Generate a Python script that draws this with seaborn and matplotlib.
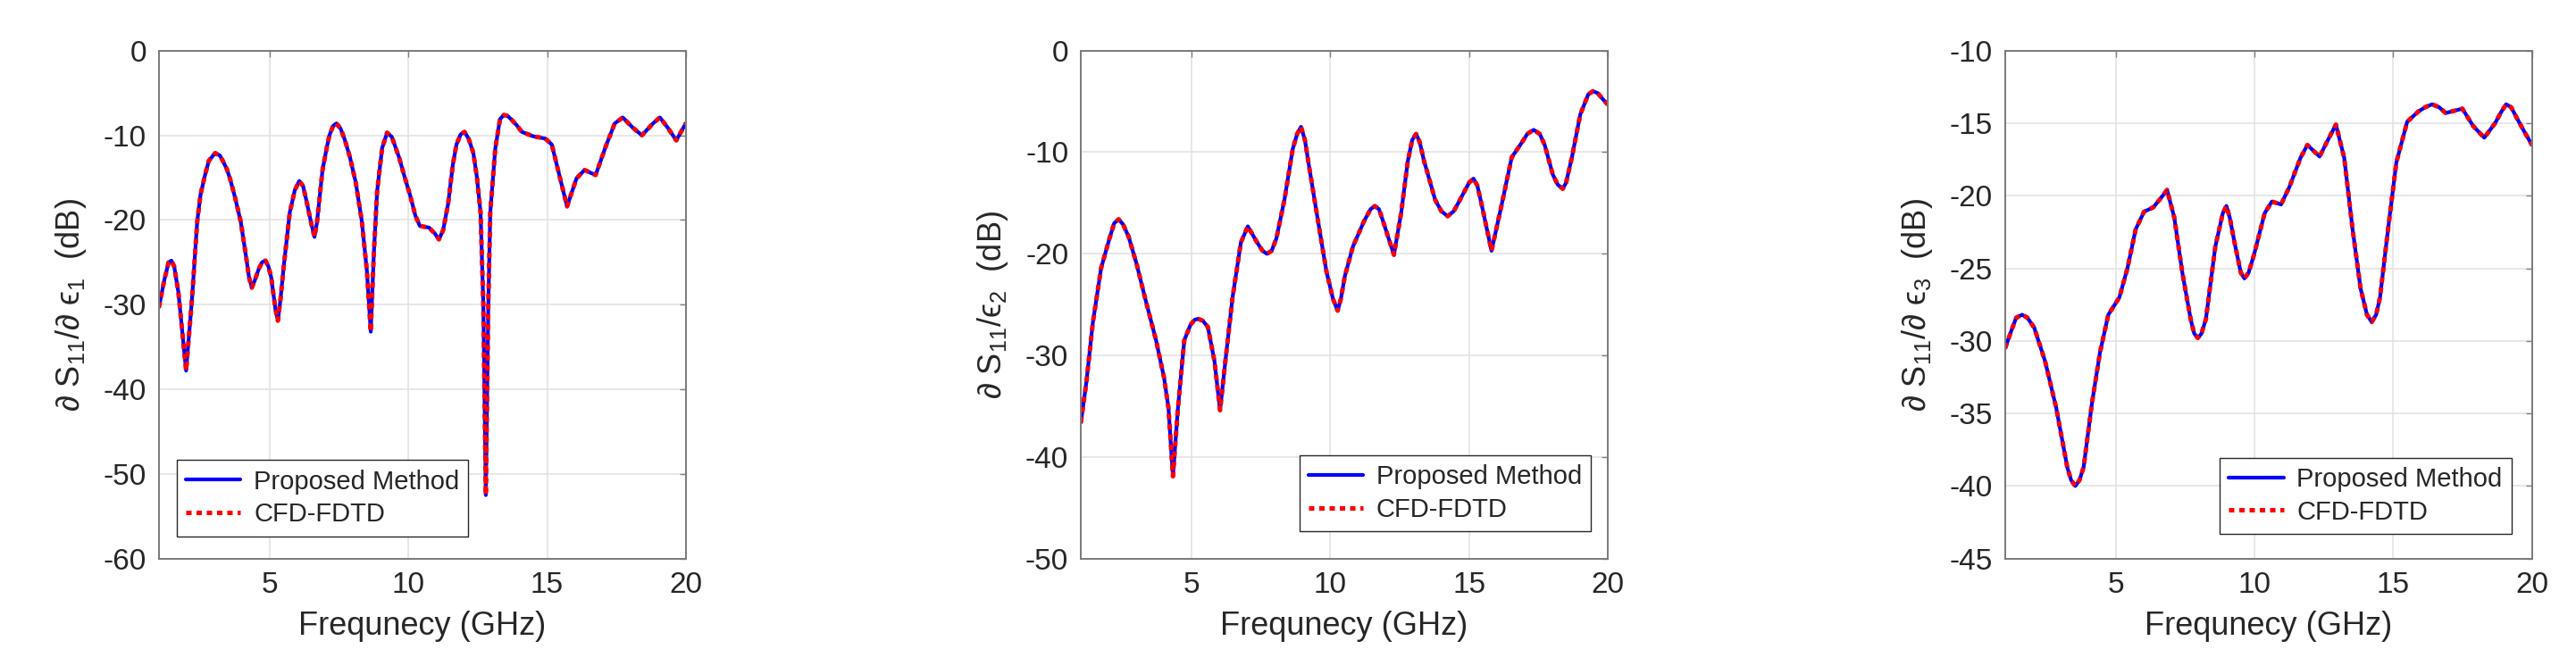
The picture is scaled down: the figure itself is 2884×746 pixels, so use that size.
import numpy as np
import pandas as pd
import seaborn as sns
import matplotlib.pyplot as plt

# panel 1: dS11/de1
freq1 = [1.0, 1.2, 1.35, 1.45, 1.55, 1.7, 1.85, 1.98, 2.1, 2.2, 2.38, 2.5, 2.67, 2.8, 3.03, 3.2,
         3.3, 3.45, 3.56, 3.75, 3.95, 4.15, 4.25, 4.35, 4.45, 4.6, 4.72, 4.84, 4.95, 5.05, 5.2,
         5.29, 5.38, 5.5, 5.72, 5.9, 6.06, 6.2, 6.31, 6.5, 6.61, 6.7, 6.9, 7.05, 7.15, 7.28, 7.4,
         7.55, 7.7, 7.89, 8.1, 8.32, 8.5, 8.64, 8.75, 8.87, 9.05, 9.23, 9.4, 9.66, 9.85, 10.06,
         10.25, 10.41, 10.55, 10.74, 10.95, 11.1, 11.25, 11.43, 11.6, 11.73, 11.88, 12.02, 12.17,
         12.34, 12.47, 12.6, 12.7, 12.79, 12.88, 12.95, 13.13, 13.3, 13.44, 13.57, 13.7, 13.9,
         14.09, 14.48, 14.94, 15.17, 15.47, 15.72, 16.06, 16.35, 16.55, 16.75, 17.14, 17.44,
         17.73, 18.09, 18.42, 18.82, 19.07, 19.35, 19.66, 20.0]
prop1 = [-30.3, -27.0, -25.0, -24.8, -25.5, -28.5, -33.5, -37.8, -33.0, -29.0, -20.2, -17.0, -14.6,
         -13.0, -12.1, -12.4, -13.0, -14.0, -15.1, -17.4, -20.2, -24.5, -26.8, -28.0, -27.2, -25.8,
         -25.0, -24.8, -25.5, -26.8, -30.5, -31.9, -29.5, -25.5, -19.1, -16.5, -15.4, -16.0, -17.6,
         -20.5, -22.0, -20.3, -14.1, -11.5, -10.0, -8.9, -8.6, -9.2, -10.5, -12.6, -15.6, -20.2,
         -26.0, -33.2, -24.0, -16.6, -11.5, -9.7, -10.2, -12.6, -14.8, -17.1, -19.5, -20.7, -20.8,
         -20.9, -21.6, -22.3, -21.2, -18.1, -13.5, -11.1, -9.9, -9.6, -10.4, -12.1, -15.0, -19.1,
         -30.0, -52.5, -30.0, -19.1, -11.6, -8.1, -7.6, -7.7, -8.1, -8.8, -9.6, -10.1, -10.4,
         -11.1, -15.1, -18.4, -15.1, -14.1, -14.4, -14.7, -11.1, -8.6, -7.9, -9.1, -10.0, -8.6,
         -7.9, -9.1, -10.6, -8.6]
cfd1 = prop1

# panel 2: dS11/e2
freq2 = [1.0, 1.2, 1.43, 1.73, 2.03, 2.2, 2.36, 2.52, 2.72, 3.01, 3.31, 3.71, 4.0, 4.16, 4.32, 4.5,
         4.73, 4.95, 5.1, 5.23, 5.4, 5.58, 5.82, 6.02, 6.21, 6.47, 6.77, 7.02, 7.36, 7.55, 7.71,
         7.88, 8.05, 8.34, 8.64, 8.8, 8.94, 9.08, 9.23, 9.53, 9.86, 10.1, 10.26, 10.38, 10.52,
         10.81, 11.21, 11.45, 11.6, 11.75, 11.9, 12.29, 12.55, 12.79, 12.95, 13.09, 13.22, 13.38,
         13.78, 14.0, 14.23, 14.45, 14.67, 15.0, 15.16, 15.3, 15.45, 15.81, 16.15, 16.54, 16.94,
         17.1, 17.33, 17.55, 17.73, 18.02, 18.2, 18.38, 18.5, 18.71, 19.01, 19.3, 19.47, 19.65,
         19.8, 20.0]
prop2 = [-36.6, -32.6, -26.8, -21.4, -18.5, -17.0, -16.6, -17.1, -18.3, -21.0, -24.3, -28.5, -32.2,
         -35.2, -41.9, -35.2, -28.5, -27.0, -26.5, -26.4, -26.6, -27.2, -30.6, -35.4, -30.6, -24.3,
         -18.9, -17.3, -18.9, -19.7, -20.0, -19.7, -18.5, -14.7, -9.7, -8.2, -7.5, -8.8, -11.4,
         -16.4, -21.8, -24.5, -25.6, -24.4, -22.2, -19.3, -16.8, -15.6, -15.3, -15.6, -16.8, -20.1,
         -16.0, -10.9, -8.8, -8.2, -9.0, -10.9, -14.7, -15.8, -16.3, -15.8, -14.7, -13.0, -12.6,
         -13.3, -15.1, -19.7, -15.5, -10.5, -8.9, -8.2, -7.8, -8.2, -9.3, -12.2, -13.2, -13.6,
         -13.0, -10.5, -6.3, -4.3, -4.0, -4.2, -4.7, -5.3]
cfd2 = prop2

# panel 3: dS11/de3
freq3 = [1.0, 1.26, 1.4, 1.61, 1.8, 2.05, 2.44, 2.84, 3.24, 3.38, 3.53, 3.68, 3.83, 4.13, 4.42,
         4.72, 5.12, 5.41, 5.71, 6.01, 6.34, 6.6, 6.84, 7.1, 7.39, 7.69, 7.82, 7.95, 8.08, 8.24,
         8.58, 8.85, 8.98, 9.1, 9.27, 9.5, 9.63, 9.78, 9.97, 10.36, 10.62, 10.95, 11.25, 11.65,
         11.9, 12.34, 12.63, 12.93, 13.23, 13.53, 13.82, 14.05, 14.22, 14.38, 14.52, 14.81, 15.11,
         15.5, 15.9, 16.15, 16.4, 16.65, 16.89, 17.49, 17.88, 18.28, 18.67, 18.9, 19.07, 19.25,
         19.47, 19.7, 20.0]
prop3 = [-30.5, -29.1, -28.4, -28.2, -28.4, -29.1, -31.4, -34.6, -38.7, -39.6, -40.0, -39.6, -38.7,
         -34.3, -30.8, -28.2, -27.0, -25.0, -22.3, -21.1, -20.8, -20.2, -19.6, -21.5, -25.3, -28.5,
         -29.5, -29.8, -29.5, -28.5, -23.5, -21.2, -20.7, -21.5, -23.2, -25.3, -25.7, -25.3, -24.1,
         -21.2, -20.4, -20.6, -19.4, -17.4, -16.5, -17.3, -16.2, -15.1, -17.4, -22.3, -26.4, -28.2,
         -28.7, -28.2, -27.0, -22.3, -17.7, -14.9, -14.2, -13.9, -13.7, -13.9, -14.3, -14.0, -15.2,
         -16.0, -15.0, -14.2, -13.7, -13.9, -14.7, -15.5, -16.5]
cfd3 = prop3

ylabels = ['∂ S$_{11}$/∂ ϵ$_1$  (dB)', '∂ S$_{11}$/ϵ$_2$  (dB)', '∂ S$_{11}$/∂ ϵ$_3$  (dB)']
yticks = [np.arange(-60, 1, 10), np.arange(-50, 1, 10), np.arange(-45, -9, 5)]
xlabel = 'Frequnecy (GHz)'

sns.set_style('white')
plt.rcParams['font.family'] = ['Liberation Sans', 'DejaVu Sans']
plt.rcParams['mathtext.fontset'] = 'custom'
plt.rcParams['mathtext.rm'] = 'Liberation Sans'
plt.rcParams['mathtext.it'] = 'Liberation Sans:italic'
plt.rcParams['axes.unicode_minus'] = False

fig = plt.figure(figsize=(28.84, 7.46), dpi=100)
lefts = [0.0617, 0.4196, 0.7784]
legend_pos = [('lower left', (0.034, 0.044)), ('lower right', (0.968, 0.054)),
              ('lower right', (0.961, 0.049))]
panels = [(freq1, prop1, cfd1), (freq2, prop2, cfd2), (freq3, prop3, cfd3)]

for i, (f, p, c) in enumerate(panels):
    ax = fig.add_axes([lefts[i], 0.1613, 0.2045, 0.7627])
    df = pd.DataFrame({'f': f, 'prop': p, 'cfd': c})
    sns.lineplot(data=df, x='f', y='prop', ax=ax, color='blue', lw=3.0,
                 label='Proposed Method')
    sns.lineplot(data=df, x='f', y='cfd', ax=ax, color='red', lw=3.6,
                 linestyle=(0, (1.2, 1.1)), label='CFD-FDTD')
    ax.set_xlim(1, 20)
    ax.set_ylim(yticks[i][0], yticks[i][-1])
    ax.set_xticks([5, 10, 15, 20])
    ax.set_yticks(yticks[i])
    ax.grid(True, color='#e3e3e3', lw=1.2)
    ax.tick_params(direction='in', top=True, right=True, length=5, width=1,
                   colors='#808080', labelcolor='#262626', labelsize=24, pad=10)
    for s in ax.spines.values():
        s.set_color('#7a7a7a')
        s.set_linewidth(1.4)
    ax.set_xlabel(xlabel, fontsize=26, color='#262626', labelpad=10)
    ax.set_ylabel(ylabels[i], fontsize=26, color='#262626', labelpad=12)
    loc, anchor = legend_pos[i]
    leg = ax.legend(loc=loc, bbox_to_anchor=anchor, fontsize=21, fancybox=False,
                    framealpha=1, edgecolor='#262626', borderpad=0.35,
                    labelspacing=0.3, handlelength=2.1, handletextpad=0.5,
                    borderaxespad=0)
    leg.get_frame().set_linewidth(1.0)
    leg.set_zorder(1)

plt.savefig('out.png', dpi=100)
plt.close()
